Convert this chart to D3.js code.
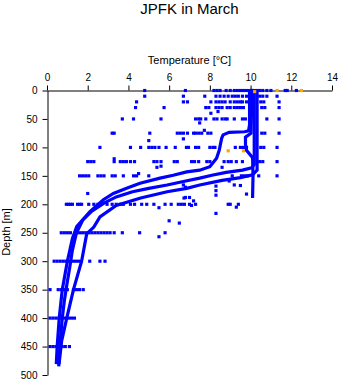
<!DOCTYPE html>
<html><head><meta charset="utf-8">
<script src="https://cdn.jsdelivr.net/npm/d3@7"></script>
<style>
html,body{margin:0;padding:0;background:#fff;}
text{font-family:"Liberation Sans",Arial,Helvetica,sans-serif;fill:#000;}
</style></head>
<body><svg id="chart" width="341" height="384"></svg>
<script>
// ---- data ----
const title = "JPFK in March";
const xLabel = "Temperature [°C]";
const yLabel = "Depth [m]";
const xTicks = [0,2,4,6,8,10,12,14];
const yTicks = [0,50,100,150,200,250,300,350,400,450,500];

// profile A (stays warm)
const profA_D = [0,30,75,82,95,105,118,150,186];
const profA_T = [10.08,10.05,10.02,9.75,9.75,9.8,10.1,10.12,10.1];
// profile B (departs at ~72 m)
const profB_D = [0,60,71,72.5,73.5,78,84,105,119,134,140,143,149,154,163,172,181,192,213,239,260,300,350,400,450,478];
const profB_T = [9.95,9.95,9.9,9.7,8.95,8.65,8.58,8.46,8.33,8.0,7.5,6.86,6.2,5.55,4.57,3.91,3.26,2.77,2.11,1.46,1.25,1.0,0.75,0.6,0.5,0.46];
// profile C
const profC_D = [0,130,136,140,144,149,154,160,166,172,178,187,198,212,228,250,280,310,340,370,400,440,482];
const profC_T = [10.18,10.18,10.05,9.6,8.8,8.1,7.5,6.7,5.9,5.0,4.2,3.4,2.8,2.2,1.75,1.45,1.25,1.12,0.98,0.85,0.75,0.65,0.58];
// profile D
const profD_D = [0,140,148,153,158,166,172,178,189,202,222,240,252,300,350,400,440,478];
const profD_T = [10.32,10.32,10.1,9.5,8.6,7.5,6.86,5.9,4.6,3.4,2.6,2.3,1.95,1.7,1.3,0.97,0.72,0.6];

// bottle samples at standard depths
const sampleDepths = [0,10,20,30,50,75,100,125,150,200,250,300,350,400,450];
const sampleTemps = [
  [4.8,6.8,8.2,8.35,8.5,8.8,9.0,9.2,9.35,9.5,9.65,9.8,10.0,10.1,10.3,10.45,10.6,10.8,11.0,11.7,11.8,12.25],
  [4.8,6.7,7.75,8.3,8.5,8.7,8.9,9.1,9.25,9.4,9.6,9.8,10.45,10.6,10.8,11.3],
  [4.4,6.7,6.9,8.05,8.3,8.45,8.6,8.75,9.0,9.2,9.35,9.5,9.6,9.8,10.5,10.65,11.4],
  [4.35,5.75,7.8,7.95,8.3,8.45,8.6,8.85,9.0,9.2,9.35,9.5,9.65,10.55,10.7,11.4],
  [3.7,4.25,5.6,7.3,7.45,7.55,7.8,8.2,8.35,8.6,8.75,8.85,9.2,9.6,9.75,10.8,11.4],
  [3.2,3.3,5.05,6.4,6.55,6.7,6.9,7.2,7.3,7.45,7.6,7.9,8.05,10.55,10.7,11.4],
  [2.6,4.1,4.6,5.0,5.15,5.3,5.5,5.85,6.3,6.85,6.95,7.3,7.45,8.0,8.15,8.25,9.25,9.5,9.65,9.8,10.5,10.65,11.3],
  [2.0,2.15,2.3,3.3,3.6,3.75,3.9,4.1,4.3,5.25,5.4,5.6,6.25,6.4,7.1,7.25,7.45,7.85,8.0,8.7,8.9,9.05,9.3,9.6,10.45,10.6,11.3],
  [1.6,1.75,1.9,2.05,2.5,2.65,2.8,3.2,3.35,3.75,4.25,4.4,5.0,9.1,9.55,9.7,9.85,10.4,11.3],
  [0.95,1.05,1.15,1.25,1.5,1.6,1.7,2.05,2.3,2.5,2.95,3.2,3.4,3.6,3.75,4.1,4.3,4.65,4.9,5.25,5.8,6.1,6.45,6.6,6.75,7.0,7.3,8.9,9.4],
  [0.7,0.85,1.0,1.15,1.45,1.6,1.75,1.9,2.05,2.2,2.35,2.5,2.65,2.8,2.95,3.1,3.3,3.7,4.55,5.8],
  [0.35,0.5,0.65,0.8,0.95,1.1,1.25,1.4,1.55,2.1,2.6,2.85],
  [0.15,0.55,0.7,0.85,1.0,1.3,1.45,1.6,1.78],
  [0.15,0.3,0.45,0.6,0.75,0.9,1.05,1.2,1.35],
  [0.15,0.3,0.45,0.6,0.75,0.9,1.1]
];
// isolated samples
const extraT = [8.05,8.4,7.5,7.73,5.0,6.7,3.3,5.4,5.6,8.6,4.5,2.0,6.7,6.8,6.8,6.0,6.5,8.3,8.3,9.2,8.95,9.5,9.8,8.3,9.0,9.3,7.0,7.2,7.1,8.3,5.5,5.5,6.73];
const extraD = [40,37,57,70,88,85,120,135,133,135,146,181,166,170,188,229,233,168,176,166,159,167,182,184,200,205,188,194,202,216,257,206,189];
// highlighted (orange) samples
const orangeT = [10.2,11.3,12.5,8.9,9.65];
const orangeD = [2,0,0,106,106];

// ---- drawing ----
const svg = d3.select("#chart");
const x = d3.scaleLinear().domain([0,14]).range([47,332]);
const y = d3.scaleLinear().domain([0,500]).range([90.5,375]);
const blue = "#0000ff", orange = "#ffa500";

svg.append("text").attr("x",189.5).attr("y",13.5).attr("text-anchor","middle")
  .attr("font-size",15).text(title);
svg.append("text").attr("x",189.5).attr("y",63.5).attr("text-anchor","middle")
  .attr("font-size",11).text(xLabel);
svg.append("text").attr("transform","translate(10,232) rotate(-90)").attr("text-anchor","middle")
  .attr("font-size",11).text(yLabel);

const xa = svg.append("g").attr("transform","translate(0,90.5)")
  .call(d3.axisTop(x).tickValues(xTicks).tickSize(5).tickSizeOuter(0).tickPadding(5));
const ya = svg.append("g").attr("transform","translate(47.5,0)")
  .call(d3.axisLeft(y).tickValues(yTicks).tickSize(5).tickSizeOuter(0).tickPadding(5));
[xa,ya].forEach(a=>{
  a.selectAll("text").attr("font-size",10).attr("font-family","Liberation Sans, Arial, sans-serif");
  a.selectAll("path,line").attr("stroke","#000");
});

// sample points
const pts = [];
sampleDepths.forEach((d,i)=>sampleTemps[i].forEach(t=>pts.push([t,d])));
extraT.forEach((t,i)=>pts.push([t,extraD[i]]));
const sym = d3.symbol().type(d3.symbolSquare).size(10);
svg.append("g").selectAll("path").data(pts).join("path")
  .attr("transform",p=>`translate(${x(p[0])},${y(p[1])})`)
  .attr("d",sym).attr("fill",blue);

// profiles
const line = d3.line().x(p=>x(p[0])).y(p=>y(p[1]));
const profiles = [[profA_T,profA_D],[profB_T,profB_D],[profC_T,profC_D],[profD_T,profD_D]];
svg.append("g").selectAll("path").data(profiles.map(([T,D])=>T.map((t,i)=>[t,D[i]])))
  .join("path").attr("d",line).attr("fill","none").attr("stroke",blue)
  .attr("stroke-width",3.2).attr("stroke-linejoin","miter").attr("stroke-linecap","square");

// orange samples
svg.append("g").selectAll("path").data(orangeT.map((t,i)=>[t,orangeD[i]])).join("path")
  .attr("transform",p=>`translate(${x(p[0])},${y(p[1])})`)
  .attr("d",sym).attr("fill",orange);
</script></body></html>
